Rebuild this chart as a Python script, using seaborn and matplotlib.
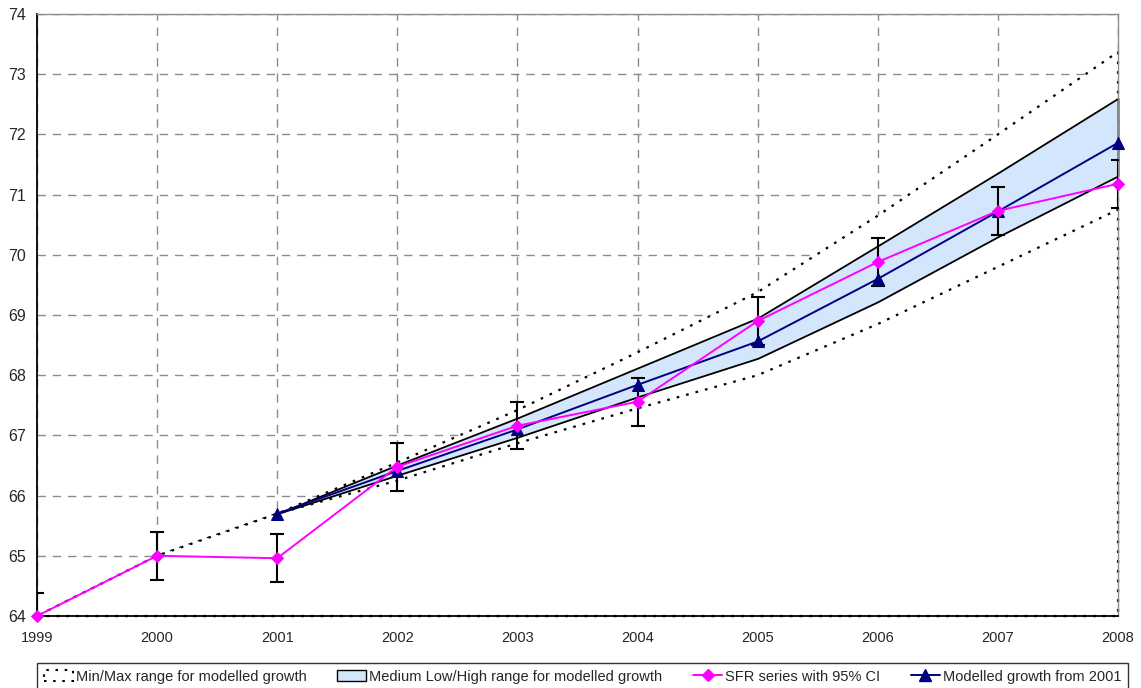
import matplotlib
matplotlib.use("Agg")
import matplotlib.pyplot as plt
from matplotlib.patches import Patch
from matplotlib.lines import Line2D
import numpy as np
import seaborn as sns

years = [1999, 2000, 2001, 2002, 2003, 2004, 2005, 2006, 2007, 2008]
sfr = [64.0, 65.0, 64.96, 66.48, 67.16, 67.56, 68.90, 69.88, 70.73, 71.18]
sfr_ci = [0.38, 0.40, 0.40, 0.40, 0.39, 0.40, 0.40, 0.40, 0.40, 0.40]
max_range = [64.0, 65.0, 65.70, 66.55, 67.42, 68.38, 69.38, 70.65, 72.00, 73.37]
min_range = [64.0, 65.0, 65.70, 66.25, 66.87, 67.45, 68.00, 68.85, 69.80, 70.75]

model_years = [2001, 2002, 2003, 2004, 2005, 2006, 2007, 2008]
modelled = [65.70, 66.41, 67.10, 67.84, 68.56, 69.60, 70.72, 71.86]
med_high = [65.70, 66.51, 67.29, 68.12, 68.95, 70.15, 71.36, 72.60]
med_low = [65.70, 66.34, 66.97, 67.64, 68.28, 69.22, 70.30, 71.31]

labels = ["Min/Max range for modelled growth",
          "Medium Low/High range for modelled growth",
          "SFR series with 95% CI",
          "Modelled growth from 2001"]

sns.set_style("white")
plt.rcParams['font.family'] = ['Liberation Sans', 'DejaVu Sans']
plt.rcParams['font.size'] = 10.5

fig = plt.figure(figsize=(11.41, 6.88), dpi=100)
ax = fig.add_axes([37 / 1141, 72 / 688, 1081 / 1141, 602 / 688])

dot = (0, (1.2, 3.2))
band_col = "#d4e6fb"

# min/max area, white fill hides the grid like the excel area series
ax.fill_between(years, 64, max_range, facecolor="white", edgecolor="black",
                linestyle=dot, linewidth=1.6, zorder=1, clip_on=False)
ax.fill_between(years, 64, min_range, facecolor="white", edgecolor="black",
                linestyle=dot, linewidth=1.6, zorder=1.1, clip_on=False)
ax.fill_between(model_years, med_low, med_high, facecolor=band_col,
                edgecolor="black", linewidth=1.3, zorder=2, clip_on=False)

ax.errorbar(years, sfr, yerr=sfr_ci, fmt="none", ecolor="black",
            elinewidth=1.5, capsize=5, capthick=1.5, zorder=4)
sns.lineplot(x=model_years, y=modelled, color="#000080", marker="^",
             markersize=9, markeredgecolor="#000080", linewidth=1.4,
             ax=ax, zorder=5, clip_on=False)
sns.lineplot(x=years, y=sfr, color="#ff00ff", marker="D", markersize=6,
             markeredgecolor="#ff00ff", linewidth=1.4, ax=ax, zorder=6,
             clip_on=False)

ax.set_xlim(1999, 2008)
ax.set_ylim(64, 74)
ax.set_xticks(years)
ax.set_xticklabels([str(y) for y in years])
ax.set_yticks(range(64, 75))
ax.set_axisbelow(True)
ax.grid(True, color="#8c8c8c", linestyle=(0, (6, 5)), linewidth=1)
ax.tick_params(axis="both", direction="out", length=4, width=1,
               color="black", labelsize=10.5, pad=7)
ax.tick_params(axis="y", pad=4, labelsize=11.5)
for s in ["left", "bottom"]:
    ax.spines[s].set_color("black")
    ax.spines[s].set_linewidth(1.3)
for s in ["top", "right"]:
    ax.spines[s].set_color("#8c8c8c")
    ax.spines[s].set_linewidth(1)
ax.set_xlabel("")
ax.set_ylabel("")

handles = [
    Patch(facecolor="white", edgecolor="black", linestyle=dot, linewidth=1.5),
    Patch(facecolor=band_col, edgecolor="black", linewidth=1),
    Line2D([], [], color="#ff00ff", marker="D", markersize=6, linewidth=1.4),
    Line2D([], [], color="#000080", marker="^", markersize=8, linewidth=1.4),
]
leg = fig.legend(handles, labels, loc="upper left", ncol=4, mode="expand",
                 bbox_to_anchor=(37 / 1141, 1 - 663 / 688, 1091 / 1141, 0.0),
                 borderaxespad=0, frameon=True, fancybox=False,
                 handlelength=2.0, handletextpad=0.2, borderpad=0.45,
                 fontsize=10.5)
leg.get_frame().set_edgecolor("black")
leg.get_frame().set_linewidth(1)

fig.savefig("out.png", dpi=100)
